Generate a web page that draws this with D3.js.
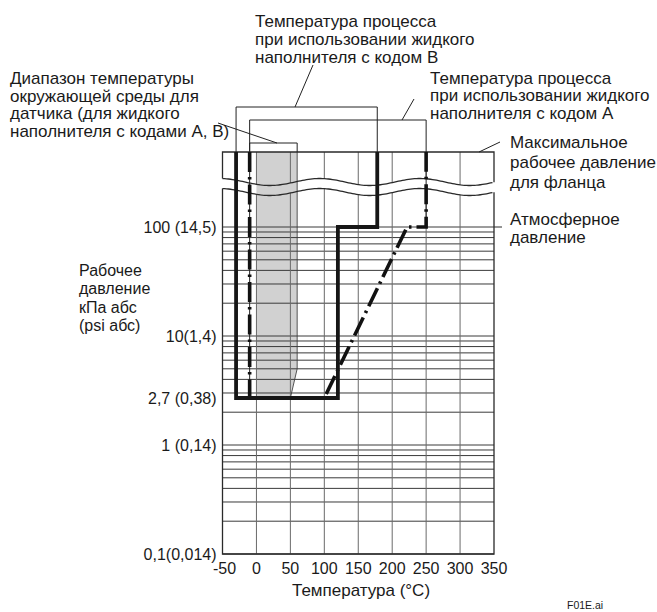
<!DOCTYPE html>
<html><head><meta charset="utf-8">
<script src="https://cdn.jsdelivr.net/npm/d3@7"></script>
<style>
body{margin:0;background:#fff}
svg{display:block}
text{font-family:"Liberation Sans",Arial,sans-serif;fill:#1a1a1a}
</style>
</head><body>
<svg id="chart" width="657" height="612"></svg>
<script>
// ---------- data ----------
const temperatureTicks = [-50, 0, 50, 100, 150, 200, 250, 300, 350];
const pressureGrid = [0.1,0.2,0.3,0.4,0.5,0.6,0.7,0.8,0.9,1,2,3,4,5,6,7,8,9,10,20,30,40,50,60,70,80,90,100];
const pressureTicks = [100, 10, 2.7, 1, 0.1];
const pressureTickLabels = ["100 (14,5)", "10(1,4)", "2,7 (0,38)", "1 (0,14)", "0,1(0,014)"];

// "max" = maximum working pressure of the flange (above the axis break)
const codeBTemps = [-30, -30, 120, 120, 178, 178];
const codeBPressures = ["max", 2.7, 2.7, 100, 100, "max"];
const codeATemps = [-10, -10, 100, 222, 250, 250];
const codeAPressures = ["max", 2.7, 2.7, 100, 100, "max"];
const ambientTemps = [0, 60, 60, 50, 0];
const ambientPressures = ["max", "max", 5, 2.7, 2.7];
const atmosphericPressure = 100;

const labelB = ["Температура процесса", "при использовании жидкого", "наполнителя с кодом B"];
const labelA = ["Температура процесса", "при использовании жидкого", "наполнителя с кодом A"];
const labelAmbient = ["Диапазон температуры", "окружающей среды для", "датчика (для жидкого", "наполнителя с кодами A, B)"];
const labelMax = ["Максимальное", "рабочее давление", "для фланца"];
const labelAtm = ["Атмосферное", "давление"];
const labelY = ["Рабочее", "давление", "кПа абс", "(psi абс)"];
const labelX = "Температура (°C)";

// ---------- layout ----------
const svg = d3.select("#chart");
const x = d3.scaleLinear().domain([-50, 350]).range([222.5, 494]);
const y = d3.scaleLog().domain([0.1, 100]).range([554, 227]);
const topY = 152, waveUpC = 182, waveLowC = 192, waveAmp = 3.5, wavePeriod = 100, wavePhase = 220;
const waveY = (px, c) => c - waveAmp * Math.cos(2 * Math.PI * (px - wavePhase) / wavePeriod);
const py = p => p === "max" ? topY : y(p);
const [x0, x1] = x.range();

// ambient band
svg.append("path")
  .attr("d", d3.line()(ambientTemps.map((t, i) => [x(t), py(ambientPressures[i])])) + "Z")
  .attr("fill", "#d1d1d1").attr("stroke", "none");
svg.append("path")
  .attr("d", d3.line()([[x(60), topY], [x(60), y(5)], [x(50), y(2.7)]]))
  .attr("fill", "none").attr("stroke", "#444").attr("stroke-width", 0.9);

// horizontal grid
svg.append("g").selectAll("line").data(pressureGrid).join("line")
  .attr("x1", x0).attr("x2", x1).attr("y1", d => y(d)).attr("y2", d => y(d))
  .attr("stroke", "#3a3a3a").attr("stroke-width", 1);

// vertical grid, broken at the axis break
const inner = temperatureTicks.slice(1, -1);
const vg = svg.append("g").attr("stroke", "#6a6a6a").attr("stroke-width", 1);
vg.selectAll(".vu").data(inner).join("line")
  .attr("x1", d => x(d)).attr("x2", d => x(d)).attr("y1", topY).attr("y2", d => waveY(x(d), waveUpC));
vg.selectAll(".vl").data(inner).join("line")
  .attr("x1", d => x(d)).attr("x2", d => x(d)).attr("y1", d => waveY(x(d), waveLowC)).attr("y2", y(0.1));

// frame with break
const wavePts = c => d3.range(x0, x1 + 0.01, 2).map(px => [px, waveY(px, c)]);
const frame = svg.append("g").attr("fill", "none").attr("stroke", "#2a2a2a").attr("stroke-width", 1.3);
frame.append("path").attr("d",
  d3.line()([[x0, waveY(x0, waveUpC)], [x0, topY], [x1, topY], [x1, waveY(x1, waveUpC)]]));
frame.append("path").attr("d", d3.line()(wavePts(waveUpC)));
frame.append("path").attr("d", d3.line()(wavePts(waveLowC)));
frame.append("path").attr("d",
  d3.line()([[x0, waveY(x0, waveLowC)], [x0, y(0.1)], [x1, y(0.1)], [x1, waveY(x1, waveLowC)]]));
// atmospheric leader
frame.append("line").attr("x1", x1).attr("x2", x1 + 8)
  .attr("y1", y(atmosphericPressure)).attr("y2", y(atmosphericPressure)).attr("stroke-width", 1);

// code A (dash-dot)
const ptsA = codeATemps.map((t, i) => [x(t), py(codeAPressures[i])]);
svg.append("path").attr("d", d3.line()(ptsA.slice(0, 2))).attr("stroke", "#222").attr("stroke-width", 1).attr("fill", "none");
svg.append("path").attr("d", d3.line()(ptsA.slice(4, 6))).attr("stroke", "#222").attr("stroke-width", 1).attr("fill", "none");
svg.append("path").attr("d", d3.line()(ptsA))
  .attr("fill", "none").attr("stroke", "#111").attr("stroke-width", 3.6)
  .attr("stroke-dasharray", "20,5,2.5,5");

// code B (solid)
svg.append("path").attr("d", d3.line()(codeBTemps.map((t, i) => [x(t), py(codeBPressures[i])])))
  .attr("fill", "none").attr("stroke", "#161616").attr("stroke-width", 3.8).attr("stroke-linejoin", "miter");

// brackets and leaders
const br = svg.append("g").attr("fill", "none").attr("stroke", "#222").attr("stroke-width", 1);
const bracket = (t0, t1, top) => br.append("path")
  .attr("d", d3.line()([[x(t0), topY], [x(t0), top], [x(t1), top], [x(t1), topY]]));
bracket(codeBTemps[0], codeBTemps[5], 107);
bracket(codeATemps[0], codeATemps[5], 120);
bracket(codeATemps[0], ambientTemps[1], 143);
br.append("path").attr("d", d3.line()([[295, 107], [313, 65]]));
br.append("path").attr("d", d3.line()([[402, 120], [414, 99]]));
br.append("path").attr("d", d3.line()([[218, 123], [277, 143]]));
br.append("path").attr("d", d3.line()([[479, topY], [500, 142]]));

// texts
const block = (lines, tx, ty, lh, size) => {
  const t = svg.append("text").attr("x", tx).attr("y", ty).attr("font-size", size);
  lines.forEach((l, i) => t.append("tspan").attr("x", tx).attr("dy", i ? lh : 0).text(l));
};
block(labelB, 255, 27, 18, 17);
block(labelA, 430, 83.5, 17.5, 17);
block(labelAmbient, 10, 84, 17.6, 17);
block(labelMax, 510, 148, 20, 17);
block(labelAtm, 510, 224.5, 18.5, 17);
block(labelY, 79, 275.5, 18.5, 16);

svg.append("g").selectAll("text").data(pressureTicks).join("text")
  .attr("x", 216.5).attr("y", d => y(d)).attr("dy", "0.35em")
  .attr("text-anchor", "end").attr("font-size", 16)
  .text((d, i) => pressureTickLabels[i]);

svg.append("g").selectAll("text").data(temperatureTicks).join("text")
  .attr("x", d => x(d) + (d < 0 ? 2 : 0)).attr("y", 574)
  .attr("text-anchor", "middle").attr("font-size", 16)
  .text(d => d);

svg.append("text").attr("x", 361).attr("y", 596).attr("text-anchor", "middle")
  .attr("font-size", 17).text(labelX);
svg.append("text").attr("x", 567).attr("y", 609).attr("font-size", 10.5).text("F01E.ai");
</script>
</body></html>
